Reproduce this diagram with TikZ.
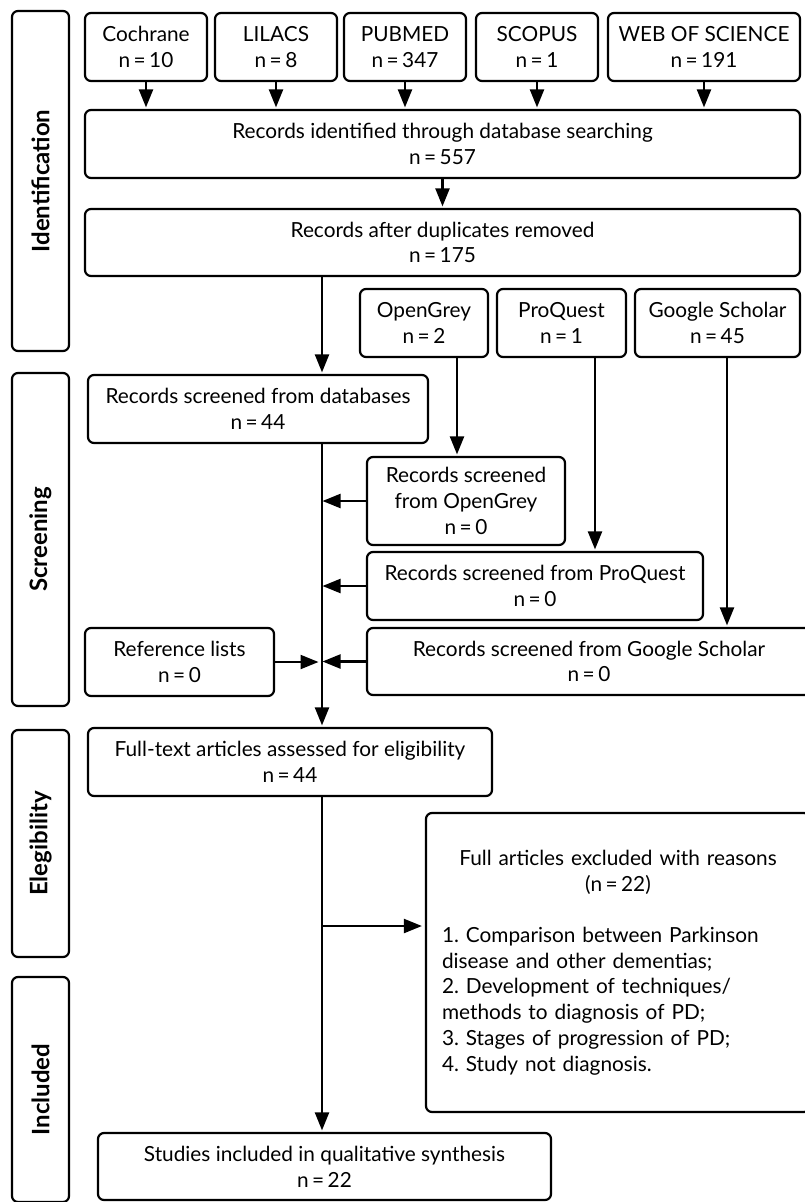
\documentclass[tikz,border=0pt]{standalone}
\usepackage{fontspec}
\setmainfont{Lato}
\usetikzlibrary{arrows.meta}
\frenchspacing
\begin{document}
\begin{tikzpicture}[x=1pt,y=-1pt,
  box/.style={draw, line width=2.2pt, rounded corners=6pt, align=center, inner sep=0pt,
    font=\fontsize{20.8}{25.7}\selectfont},
  phase/.style={draw, line width=2.2pt, rounded corners=6pt, rotate=90, inner sep=0pt,
    minimum height=57pt, font=\fontsize{24}{28}\selectfont\bfseries},
  arr/.style={line width=2.2pt, -{Triangle[length=18pt,width=14pt]}, shorten >=1.5pt},
  ]
\useasboundingbox (0,0) rectangle (805,1202);
\clip (0,0) rectangle (805,1202);

% phase labels
\node[phase, minimum width=340pt] (idp) at (40.5,181) {Identification};
\node[phase, minimum width=333pt] (scp) at (40.5,539.5) {Screening};
\node[phase, minimum width=227pt] (elp) at (40.5,843.5) {Elegibility};
\node[phase, minimum width=225pt] (inp) at (40.5,1089.5) {Included};

% databases
\node[box, minimum width=122pt, minimum height=68pt] (coch) at (146,47) {Cochrane\\n\,=\,10};
\node[box, minimum width=122pt, minimum height=68pt] (lil) at (276,47) {LILACS\\n\,=\,8};
\node[box, minimum width=122pt, minimum height=68pt] (pub) at (405,47) {PUBMED\\n\,=\,347};
\node[box, minimum width=122pt, minimum height=68pt] (sco) at (537,47) {SCOPUS\\n\,=\,1};
\node[box, minimum width=192pt, minimum height=68pt] (wos) at (704,47) {WEB OF SCIENCE\\n\,=\,191};

\node[box, minimum width=715pt, minimum height=68pt] (ident) at (442.5,144) {Records identified through database searching\\n\,=\,557};
\node[box, minimum width=715pt, minimum height=67pt] (dup) at (442.5,242.5) {Records after duplicates removed\\n\,=\,175};

\node[box, minimum width=128pt, minimum height=68pt] (og) at (424,323) {OpenGrey\\n\,=\,2};
\node[box, minimum width=129pt, minimum height=68pt] (pq) at (561.5,323) {ProQuest\\n\,=\,1};
\node[box, minimum width=165pt, minimum height=68pt] (gs) at (717.5,323) {Google Scholar\\n\,=\,45};

\node[box, minimum width=340pt, minimum height=68pt] (db) at (258,409) {Records screened from databases\\n\,=\,44};
\node[box, minimum width=198pt, minimum height=88pt] (ogs) at (466,501) {Records screened\\from OpenGrey\\n\,=\,0};
\node[box, minimum width=336pt, minimum height=68pt] (pqs) at (535,586) {Records screened from ProQuest\\n\,=\,0};
\node[box, minimum width=444pt, minimum height=67pt] (gss) at (589,661.5) {Records screened from Google Scholar\\n\,=\,0};
\node[box, minimum width=189pt, minimum height=68pt] (ref) at (179.5,662) {Reference lists\\n\,=\,0};

\node[box, minimum width=404pt, minimum height=68pt] (ft) at (290,762) {Full-text articles assessed for eligibility\\n\,=\,44};
\node[box, minimum width=384pt, minimum height=299pt, text width=352pt, align=left] (exc) at (618,962.5)
  {\makebox[352pt]{Full articles excluded with reasons}\\
   \makebox[352pt]{(n\,=\,22)}\\[25.7pt]
   1. Comparison between Parkinson\\
   disease and other dementias;\\
   2. Development of techniques/\\
   methods to diagnosis of PD;\\
   3. Stages of progression of PD;\\
   4. Study not diagnosis.};
\node[box, minimum width=453pt, minimum height=67pt] (stu) at (324.5,1166.5) {Studies included in qualitative synthesis\\n\,=\,22};

% helper coordinates
\coordinate (spine) at (322,0);
\coordinate (ogx) at (457,0);
\coordinate (pqx) at (595,0);
\coordinate (gsx) at (727,0);
\coordinate (br) at (322,926);

% connectors
\draw[arr] (coch.south) -- (coch.south |- ident.north);
\draw[arr] (lil.south) -- (lil.south |- ident.north);
\draw[arr] (pub.south) -- (pub.south |- ident.north);
\draw[arr] (sco.south) -- (sco.south |- ident.north);
\draw[arr] (wos.south) -- (wos.south |- ident.north);
\draw[arr] (ident.south) -- (dup.north);
\draw[arr] (dup.south -| spine) -- (db.north -| spine);
\draw[arr] (og.south -| ogx) -- (ogs.north -| ogx);
\draw[arr] (pq.south -| pqx) -- (pqs.north -| pqx);
\draw[arr] (gs.south -| gsx) -- (gss.north -| gsx);
\draw[arr] (db.south -| spine) -- (ft.north -| spine);
\draw[arr, shorten >=0.5pt] (ogs.west) -- (ogs.west -| spine);
\draw[arr, shorten >=0.5pt] (pqs.west) -- (pqs.west -| spine);
\draw[arr, shorten >=0.5pt] (gss.west) -- (gss.west -| spine);
\draw[arr, shorten >=3.5pt] (ref.east) -- (ref.east -| spine);
\draw[arr] (ft.south -| spine) -- (stu.north -| spine);
\draw[arr, shorten >=3pt] (br) -- (br -| exc.west);
\end{tikzpicture}
\end{document}
